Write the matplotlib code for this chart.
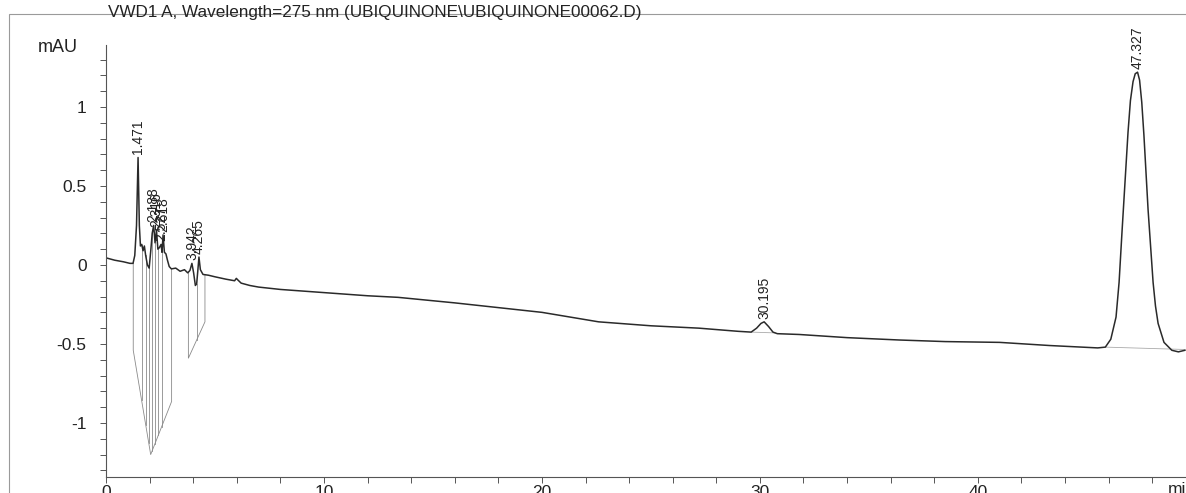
import matplotlib
matplotlib.use("Agg")
import matplotlib.pyplot as plt
import numpy as np
from matplotlib.ticker import MultipleLocator, FuncFormatter
from matplotlib.patches import Rectangle

plt.rcParams["font.family"] = ["Liberation Sans", "DejaVu Sans"]

# detector trace (min, mAU)
time_min = [
    0.0, 0.4, 0.8, 1.1, 1.24, 1.32, 1.40, 1.471, 1.53, 1.58, 1.64, 1.70, 1.76, 1.82,
    1.90, 1.98, 2.06, 2.12, 2.188, 2.25, 2.316, 2.38, 2.45, 2.527, 2.57, 2.618,
    2.68, 2.75, 2.82, 2.9, 3.0, 3.2, 3.4, 3.6, 3.75, 3.85, 3.942, 4.02, 4.10, 4.16,
    4.21, 4.265, 4.33, 4.45, 4.7, 5.0, 5.5, 5.9, 5.98, 6.05, 6.2, 6.6, 7.0, 8.0,
    9.0, 10.0, 12.0, 13.4, 16.0, 18.0, 20.0, 22.6, 25.0, 27.2, 29.0, 29.6, 29.85,
    30.05, 30.195, 30.4, 30.6, 30.8, 31.8, 34.0, 36.4, 38.5, 41.0, 43.3, 45.5,
    45.85, 46.1, 46.34, 46.48, 46.61, 46.75, 46.89, 47.0, 47.12, 47.22, 47.327,
    47.42, 47.52, 47.62, 47.81, 48.04, 48.15, 48.27, 48.54, 48.9, 49.2, 49.5,
]
signal_mau = [
    0.045, 0.03, 0.02, 0.01, 0.01, 0.06, 0.25, 0.68, 0.25, 0.12, 0.13, 0.09, 0.12, 0.06,
    0.0, -0.02, 0.10, 0.20, 0.25, 0.14, 0.22, 0.10, 0.11, 0.13, 0.08, 0.19,
    0.08, 0.07, 0.03, -0.01, -0.025, -0.02, -0.04, -0.03, -0.05, -0.035, 0.01, -0.05, -0.13, -0.12,
    -0.04, 0.05, -0.03, -0.06, -0.065, -0.075, -0.09, -0.10, -0.085, -0.095, -0.115, -0.13, -0.14, -0.155,
    -0.165, -0.175, -0.195, -0.205, -0.24, -0.27, -0.30, -0.36, -0.385, -0.40, -0.42, -0.425, -0.40,
    -0.37, -0.36, -0.39, -0.425, -0.435, -0.44, -0.46, -0.475, -0.485, -0.49, -0.51, -0.525,
    -0.52, -0.47, -0.33, -0.11, 0.20, 0.52, 0.84, 1.04, 1.16, 1.21, 1.22,
    1.17, 1.03, 0.82, 0.35, -0.11, -0.26, -0.37, -0.49, -0.54, -0.55, -0.54,
]

# integrated peaks
peak_times = [1.471, 2.188, 2.316, 2.527, 2.618, 3.942, 4.265, 30.195, 47.327]
peak_labels = ["1.471", "2.188", "2.316", "2.527", "2.618", "3.942", "4.265", "30.195", "47.327"]

# integration baselines (the V shaped ones at the start)
base1_t = [1.25, 1.25, 2.05, 3.01, 3.01]
base1_y = [0.01, -0.54, -1.20, -0.864, -0.025]
base2_t = [3.78, 3.78, 4.16, 4.54, 4.54]
base2_y = [-0.05, -0.59, -0.475, -0.36, -0.063]
drops1_t = [1.63, 1.82, 1.96, 2.12, 2.25, 2.40, 2.55]
drops2_t = [4.16]
base30_t = [29.6, 30.7]
base30_y = [-0.425, -0.43]
base47_t = [45.85, 49.5]
base47_y = [-0.52, -0.535]


def main():
    fig = plt.figure(figsize=(11.86, 4.93), dpi=100)
    ax = fig.add_axes([106 / 1186, 16 / 493, 1 - 106 / 1186, 432 / 493])

    t = np.array(time_min)
    s = np.array(signal_mau)

    grey = "#8a8a8a"
    ax.plot(base1_t, base1_y, color=grey, lw=0.6)
    ax.plot(base2_t, base2_y, color=grey, lw=0.6)
    for bt, by, drops in [(base1_t, base1_y, drops1_t), (base2_t, base2_y, drops2_t)]:
        for d in drops:
            top = np.interp(d, t, s)
            bot = np.interp(d, bt[1:-1], by[1:-1])
            ax.plot([d, d], [top, bot], color=grey, lw=0.6)
    ax.plot(base30_t, base30_y, color="#aaaaaa", lw=0.6)
    ax.plot(base47_t, base47_y, color="#aaaaaa", lw=0.6)

    ax.plot(t, s, color="#2a2a2a", lw=1.1)

    for pt, lab in zip(peak_times, peak_labels):
        y = np.interp(pt, t, s) + 0.02
        ax.text(pt, y, lab, rotation=90, ha="center", va="bottom", fontsize=10, color="#222222")

    ax.set_xlim(0, 49.55)
    ax.set_ylim(-1.342, 1.392)
    ax.xaxis.set_major_locator(MultipleLocator(10))
    ax.xaxis.set_minor_locator(MultipleLocator(2))
    ax.yaxis.set_major_locator(MultipleLocator(0.5))
    ax.yaxis.set_minor_locator(MultipleLocator(0.1))
    ax.yaxis.set_major_formatter(FuncFormatter(lambda v, p: f"{v:g}"))
    for side in ["top", "right"]:
        ax.spines[side].set_visible(False)
    for side in ["left", "bottom"]:
        ax.spines[side].set_color("#555555")
        ax.spines[side].set_linewidth(0.8)
    ax.tick_params(which="both", direction="out", length=4, width=0.7, color="#555555",
                   labelsize=12.5, labelcolor="#222222")
    ax.tick_params(axis="y", pad=10)
    ax.tick_params(axis="x", pad=2)
    ax.patch.set_visible(False)

    fig.text(58 / 1186, 1 - 47 / 493, "mAU", ha="center", va="center", fontsize=13, color="#222222")
    fig.text(1168 / 1186, 1 - 490 / 493, "min", ha="left", va="center", fontsize=12.5, color="#222222")
    fig.text(108 / 1186, 1 - 12 / 493, "VWD1 A, Wavelength=275 nm (UBIQUINONE\\UBIQUINONE00062.D)",
             ha="left", va="center", fontsize=12.3, color="#222222")

    # page frame of the printout
    fig.patches.append(Rectangle((9 / 1186, -0.1), 1.2, 1.1 - 14 / 493, transform=fig.transFigure,
                                 fill=False, edgecolor="#9a9a9a", lw=0.8, zorder=-1))

    fig.savefig("out.png", dpi=100)


if __name__ == "__main__":
    main()
